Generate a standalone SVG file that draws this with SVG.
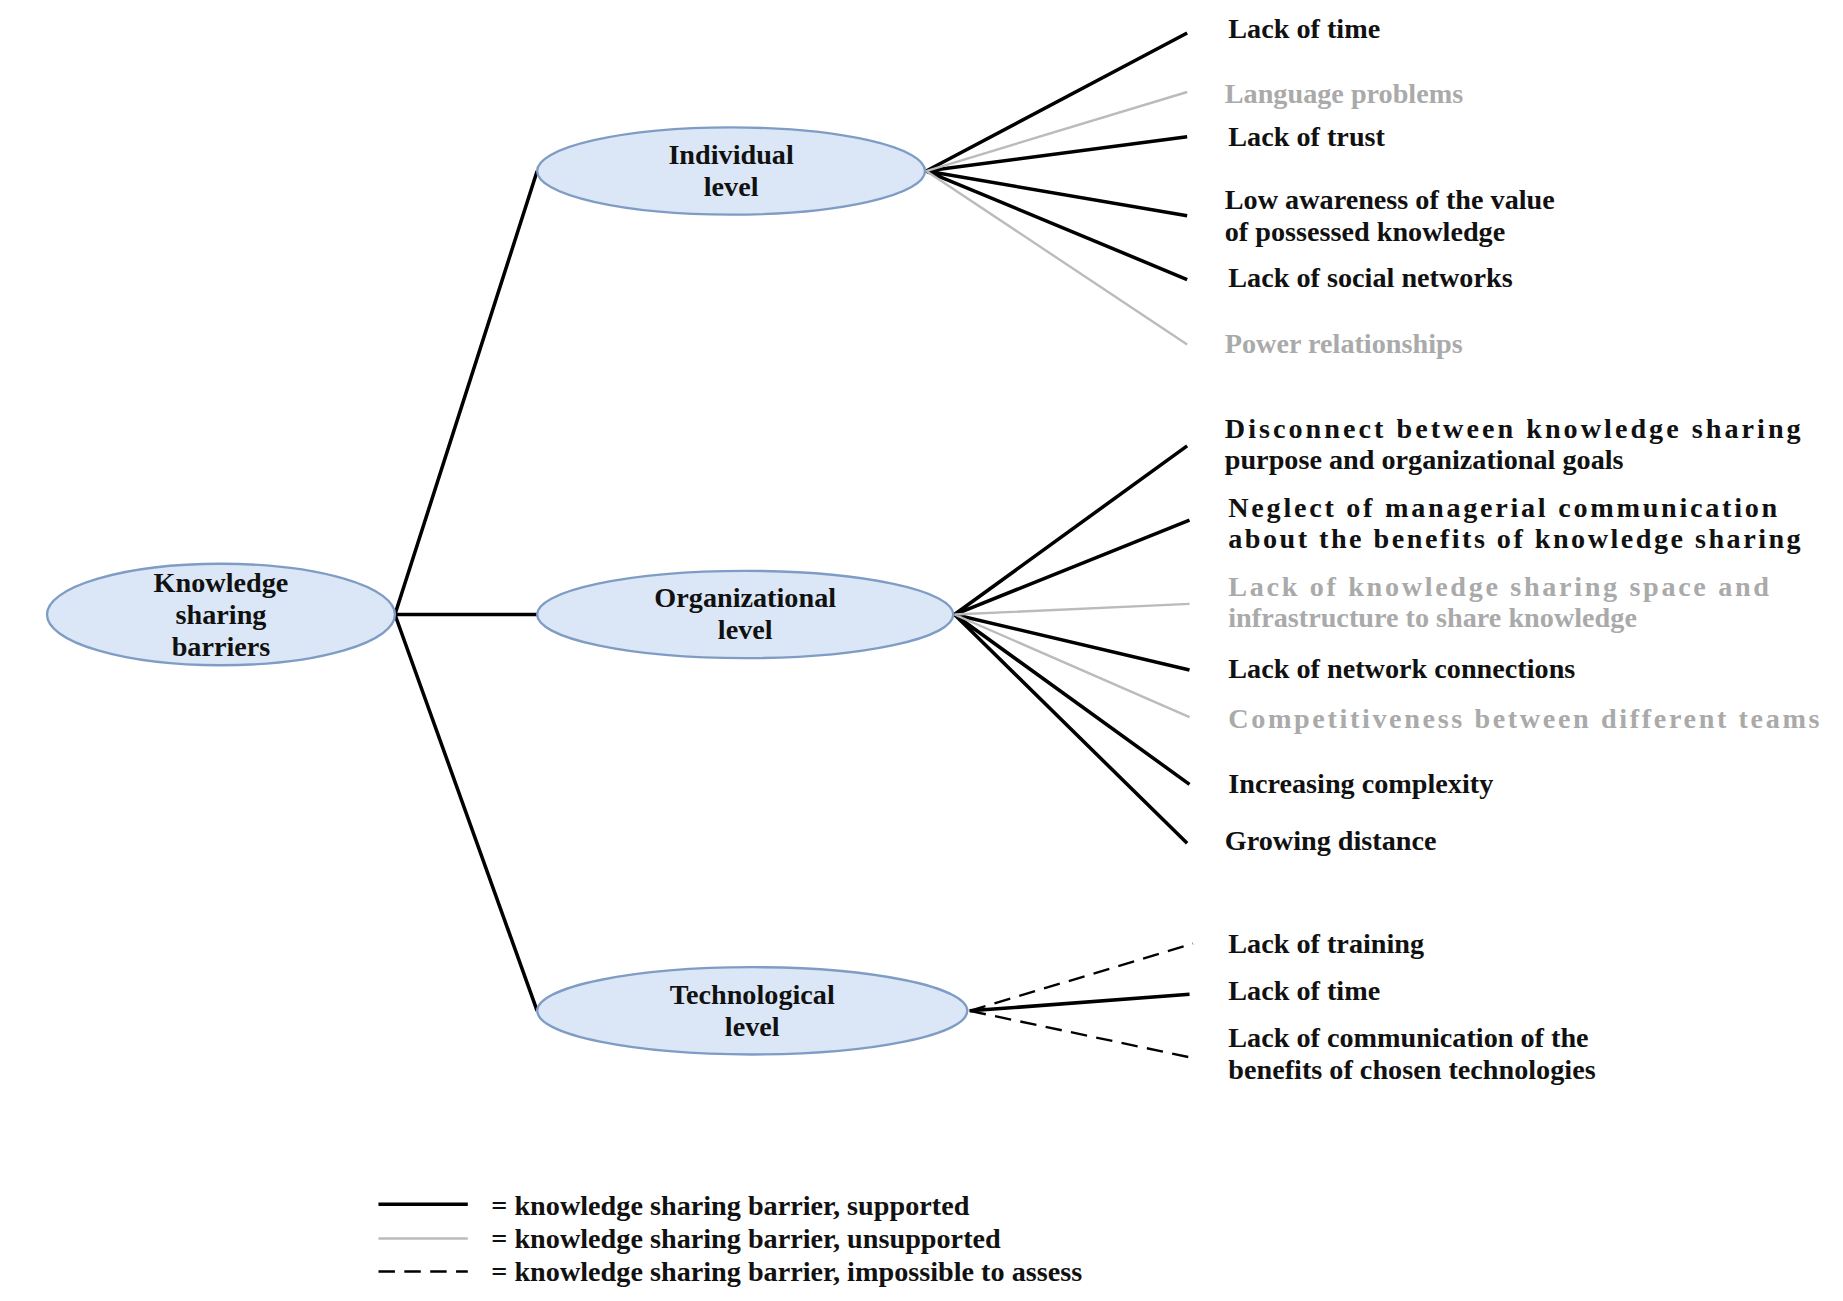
<svg xmlns="http://www.w3.org/2000/svg" width="1843" height="1301" viewBox="0 0 1843 1301">
<style>
text{font-family:"Liberation Serif","Times New Roman",serif;font-size:24px;font-weight:bold;fill:#111}
.g{fill:#aaa}
.n{fill:#dbe7f6;stroke:#7f9cc4;stroke-width:2}
.c{text-anchor:middle}
.s{stroke:#000;stroke-width:3;fill:none}
.u{stroke:#bbb;stroke-width:2;fill:none}
.d{stroke:#000;stroke-width:2;stroke-dasharray:14 8;fill:none}
</style>
<rect width="1843" height="1301" fill="#fff"/>
<g transform="scale(1.1754,1.1795)">
<g id="connectors">
<path class="s" d="M336 521L457 145M336 521H457M336 521L457 857"/>
<path class="s" d="M788 145L1010 28M788 145L1010 116M788 145L1010 183M788 145L1010 237"/>
<path class="u" d="M788 145L1010 78M788 145L1010 292"/>
<path class="s" d="M812 521L1010 378M812 521L1012 441M812 521L1012 568M812 521L1012 665M812 521L1010 715"/>
<path class="u" d="M812 521L1012 512M812 521L1012 608"/>
<path class="d" d="M825 857L1015 800M825 857L1015 897"/>
<path class="s" d="M825 857L1012 843"/>
</g>
<g id="root"><ellipse class="n" cx="188" cy="521" rx="148" ry="43"/><text class="c" x="188" y="502">Knowledge</text><text class="c" x="188" y="529">sharing</text><text class="c" x="188" y="556">barriers</text></g>
<g id="individual"><ellipse class="n" cx="622" cy="145" rx="165" ry="37"/><text class="c" x="622" y="139">Individual</text><text class="c" x="622" y="166">level</text></g>
<g id="organizational"><ellipse class="n" cx="634" cy="521" rx="177" ry="37"/><text class="c" x="634" y="515">Organizational</text><text class="c" x="634" y="542">level</text></g>
<g id="technological"><ellipse class="n" cx="640" cy="857" rx="183" ry="37"/><text class="c" x="640" y="851">Technological</text><text class="c" x="640" y="878">level</text></g>
<g id="labels">
<text x="1045" y="32">Lack of time</text>
<text class="g" x="1042" y="87">Language problems</text>
<text x="1045" y="124">Lack of trust</text>
<text x="1042" y="177">Low awareness of the value</text>
<text x="1042" y="204">of possessed knowledge</text>
<text x="1045" y="243">Lack of social networks</text>
<text class="g" x="1042" y="299">Power relationships</text>
<text x="1042" y="371" textLength="490">Disconnect  between knowledge sharing</text>
<text x="1042" y="398">purpose and organizational goals</text>
<text x="1045" y="438" textLength="467">Neglect of managerial communication</text>
<text x="1045" y="465" textLength="487">about the benefits of knowledge sharing</text>
<text class="g" x="1045" y="505" textLength="460">Lack of knowledge sharing space and</text>
<text class="g" x="1045" y="532">infrastructure to share knowledge</text>
<text x="1045" y="575">Lack of network connections</text>
<text class="g" x="1045" y="617" textLength="503">Competitiveness between different teams</text>
<text x="1045" y="672">Increasing complexity</text>
<text x="1042" y="721">Growing distance</text>
<text x="1045" y="808">Lack of training</text>
<text x="1045" y="848">Lack of time</text>
<text x="1045" y="888">Lack of communication of the</text>
<text x="1045" y="915">benefits of chosen technologies</text>
</g>
<g id="legend">
<path class="s" d="M322 1021H398"/>
<path class="u" d="M322 1050H398"/>
<path class="d" d="M322 1078H398"/>
<text x="418" y="1030">= knowledge sharing barrier, supported</text>
<text x="418" y="1058">= knowledge sharing barrier, unsupported</text>
<text x="418" y="1086">= knowledge sharing barrier, impossible to assess</text>
</g>
</g>
</svg>
